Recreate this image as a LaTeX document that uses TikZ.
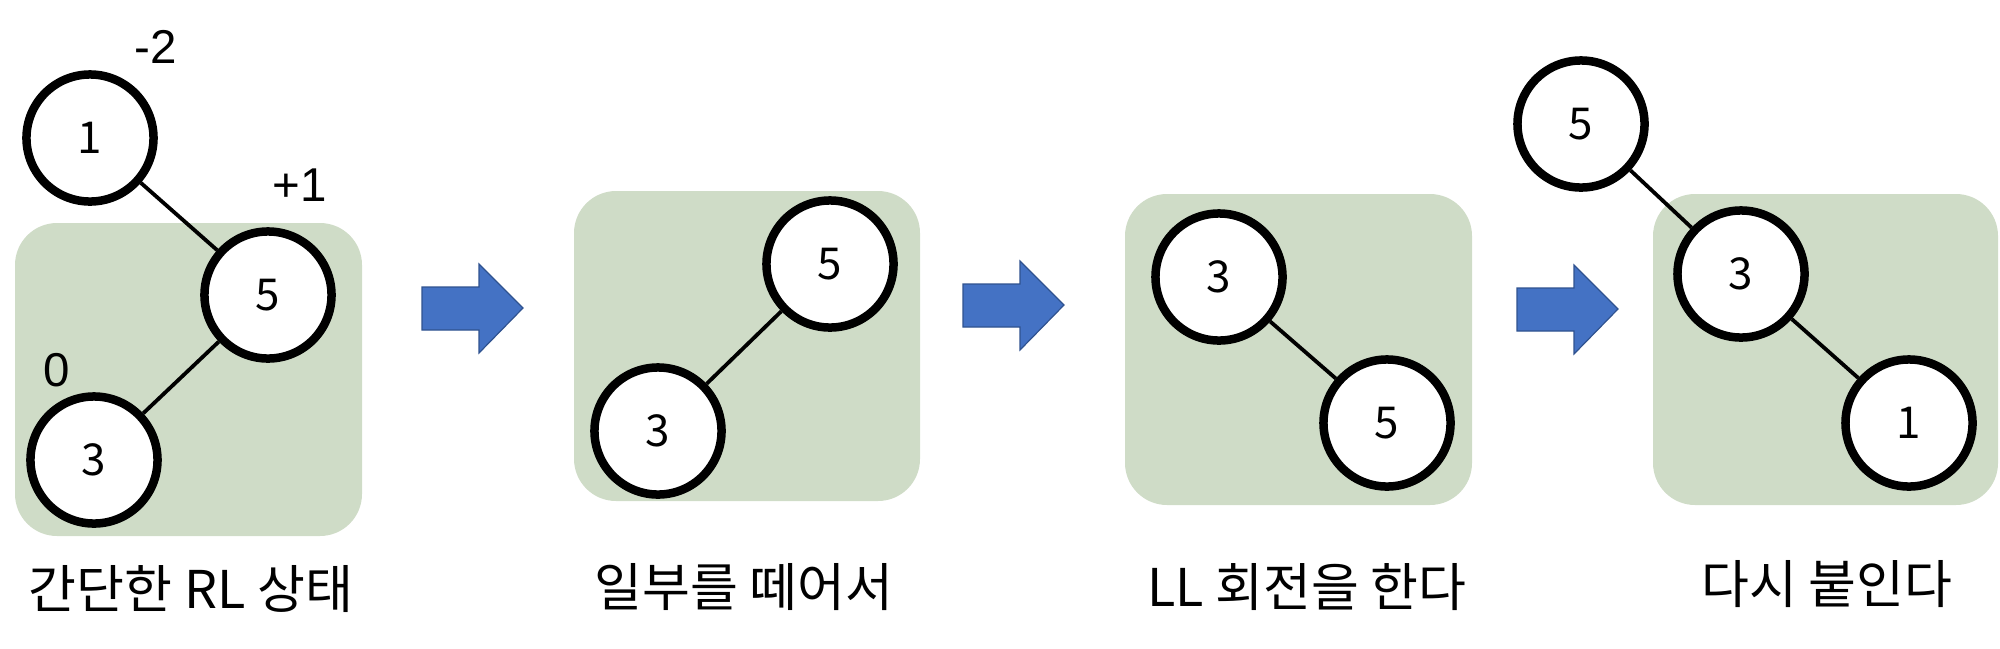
\documentclass[tikz,border=0pt]{standalone}
\usepackage{fontspec}
\setmainfont{Noto Sans CJK KR}
\newfontfamily\labfont{Liberation Sans}
\begin{document}
\begin{tikzpicture}[x=0.01cm,y=-0.01cm,
  panel/.style={fill=panelgreen,draw=none,rounded corners=0.42cm},
  tnode/.style={circle,draw=black,fill=white,line width=0.085cm,minimum size=1.27cm,inner sep=0pt,font=\fontsize{12.5}{12.5}\selectfont},
  tedge/.style={line width=0.038cm,draw=black},
  bal/.style={font=\labfont\fontsize{13.5}{14}\selectfont,inner sep=0pt},
  captext/.style={font=\fontsize{14.8}{15}\selectfont,inner sep=0pt},
  bigarrow/.style={fill=arrowblue,draw=arrowborder,line width=0.012cm,line join=miter}]
\definecolor{panelgreen}{HTML}{CFDCC7}
\definecolor{arrowblue}{HTML}{4472C4}
\definecolor{arrowborder}{HTML}{2F528F}
\useasboundingbox (0,0) rectangle (2000,648);
% panels
\fill[panel] (15,223) rectangle (362,536);
\fill[panel] (574,191) rectangle (920,501);
\fill[panel] (1125,194) rectangle (1472,505);
\fill[panel] (1653,194) rectangle (1998,505);
% arrows
\foreach \dx/\dy in {0/0, 541/-3, 1095/1}{
  \draw[bigarrow,shift={(\dx*0.01cm,-\dy*0.01cm)}] (422,287) -- (479,287) -- (479,264) -- (523,308) -- (479,353) -- (479,330) -- (422,330) -- cycle;
}
% panel 1
\node[tnode] (a1) at (90,138) {1};
\node[tnode] (a5) at (268,295) {5};
\node[tnode] (a3) at (94,460) {3};
\draw[tedge] (a1) -- (a5);
\draw[tedge] (a5) -- (a3);
\node[bal] (la) at (156,47) {-2};
\node[bal] (lb) at (300,185) {+1};
\node[bal] (lc) at (57,370) {0};
\node[captext] (c1) at (191,589) {간단한 RL 상태};
% panel 2
\node[tnode] (b5) at (830,264) {5};
\node[tnode] (b3) at (658,431) {3};
\draw[tedge] (b5) -- (b3);
\node[captext] (c2) at (744,587) {일부를 떼어서};
% panel 3
\node[tnode] (d3) at (1219,277) {3};
\node[tnode] (d5) at (1387,423) {5};
\draw[tedge] (d3) -- (d5);
\node[captext] (c3) at (1307,587) {LL 회전을 한다};
% panel 4
\node[tnode] (e5) at (1581,124) {5};
\node[tnode] (e3) at (1741,274) {3};
\node[tnode] (e1) at (1909,423) {1};
\draw[tedge] (e5) -- (e3);
\draw[tedge] (e3) -- (e1);
\node[captext] (c4) at (1827,584) {다시 붙인다};
\end{tikzpicture}
\end{document}
